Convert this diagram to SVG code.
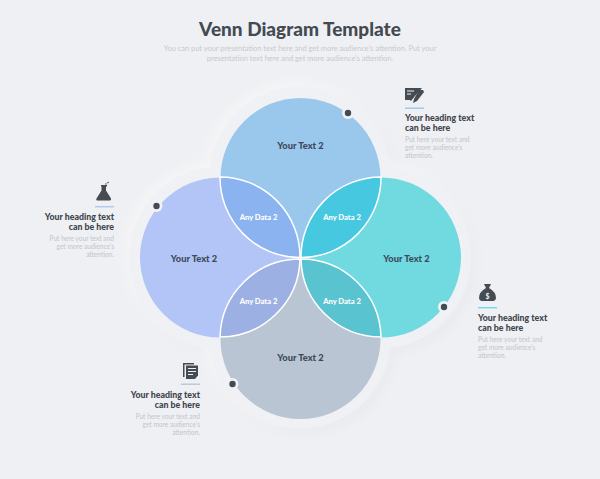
<svg xmlns="http://www.w3.org/2000/svg" width="600" height="479" viewBox="0 0 600 479">
<style>
text{font-family:Lato,"Liberation Sans",sans-serif}
.title{font-size:19px;font-weight:900;fill:#434a52;text-anchor:middle}
.sub{font-size:7.45px;fill:#c6c9ce;text-anchor:middle}
.h{font-size:8.8px;font-weight:900;fill:#3f454c}
.p{font-size:6.6px;fill:#c2c5cb}
.e{text-anchor:end}
.lab{font-size:9.3px;font-weight:900;fill:#3d4a5a;text-anchor:middle}
.dat{font-size:7.6px;font-weight:900;fill:#fff;text-anchor:middle}
.lens{stroke:#fff;stroke-width:1.5}
.ic{fill:#454b52}
.dot{fill:#454b52}
.dh{fill:#f1f2f5}
</style>
<defs>
<filter id="sd" x="-20%" y="-20%" width="140%" height="140%"><feGaussianBlur stdDeviation="6"/></filter>
</defs>
<rect width="600" height="479" fill="#eff0f3"/>
<g id="halo">
<g filter="url(#sd)" fill="#e8e9ed" transform="translate(4 4)"><circle cx="300" cy="177.500" r="91"/><circle cx="220" cy="257.500" r="91"/><circle cx="380" cy="257.500" r="91"/><circle cx="300" cy="337.500" r="91"/></g>
<g filter="url(#sd)" fill="#f6f6f8" transform="translate(-4 -4)"><circle cx="300" cy="177.500" r="91"/><circle cx="220" cy="257.500" r="91"/><circle cx="380" cy="257.500" r="91"/><circle cx="300" cy="337.500" r="91"/></g>
<g fill="#f0f1f4"><circle cx="300" cy="177.500" r="91"/><circle cx="220" cy="257.500" r="91"/><circle cx="380" cy="257.500" r="91"/><circle cx="300" cy="337.500" r="91"/></g>
</g>
<g id="circle-top"><circle cx="300.500" cy="178" r="80" fill="#99c8ec"/></g>
<g id="circle-left"><circle cx="220" cy="257.500" r="80" fill="#b2c5f6"/></g>
<g id="circle-right"><circle cx="381" cy="257.500" r="80" fill="#70dae0"/></g>
<g id="circle-bottom"><circle cx="300.500" cy="339" r="80" fill="#b9c5d3"/></g>
<g id="lens-top-left"><path class="lens" d="M220 177 A80 80 0 0 1 300 257.500 A80 80 0 0 1 220 177Z" fill="#8ab3f0"/><text class="dat" x="258.500" y="220">Any Data 2</text></g>
<g id="lens-top-right"><path class="lens" d="M381 177 A80 80 0 0 1 301 257.500 A80 80 0 0 1 381 177Z" fill="#46c8e0"/><text class="dat" x="342" y="220">Any Data 2</text></g>
<g id="lens-bottom-left"><path class="lens" d="M220 337 A80 80 0 0 1 300 259 A80 80 0 0 1 220 337Z" fill="#9db0e3"/><text class="dat" x="258.500" y="304">Any Data 2</text></g>
<g id="lens-bottom-right"><path class="lens" d="M381 337 A80 80 0 0 1 301 259 A80 80 0 0 1 381 337Z" fill="#59c3d0"/><text class="dat" x="342" y="304">Any Data 2</text></g>
<g id="labels">
<text class="lab" x="300.500" y="148.500">Your Text 2</text>
<text class="lab" x="194" y="261.500">Your Text 2</text>
<text class="lab" x="406.500" y="261.500">Your Text 2</text>
<text class="lab" x="300.500" y="361">Your Text 2</text>
</g>
<g id="dots">
<circle class="dh" cx="348" cy="113" r="6"/><circle class="dot" cx="348" cy="113" r="3.200"/>
<circle class="dh" cx="156.500" cy="206" r="6"/><circle class="dot" cx="156.500" cy="206" r="3.200"/>
<circle class="dh" cx="444" cy="307" r="6"/><circle class="dot" cx="444" cy="307" r="3.200"/>
<circle class="dh" cx="232.500" cy="384" r="6"/><circle class="dot" cx="232.500" cy="384" r="3.200"/>
</g>
<g id="title">
<text class="title" x="300" y="35.500">Venn Diagram Template</text>
<text class="sub" x="300" y="50.500">You can put your presentation text here and get more audience's attention. Put your</text>
<text class="sub" x="300" y="60.500">presentation text here and get more audience's attention.</text>
</g>
<g id="note-top">
<path class="ic" d="M405 88h17l-7 8-4 5-1-1h-5z"/>
<path d="M407 91h7M407 94h4" stroke="#eff0f3" stroke-width="1.200"/>
<path class="ic" d="M419 90l4 0 1 2-7 9-4 2 1-4z"/>
<rect x="405" y="107.500" width="19" height="1.400" fill="#99c8ec"/>
<text class="h" x="405" y="121">Your heading text</text>
<text class="h" x="405" y="131">can be here</text>
<text class="p" x="405" y="141.500">Put here your text and</text>
<text class="p" x="405" y="149.500">get more audience's</text>
<text class="p" x="405" y="157.500">attention.</text>
</g>
<g id="note-left">
<path class="ic" d="M101 185h6v1.500h-1v4l5 8q.5 2-2 2h-11q-2.500 0-1.500-2l5-8v-4h-.5z"/>
<circle class="ic" cx="106" cy="184" r=".8"/><circle class="ic" cx="108" cy="182.500" r=".8"/>
<rect x="95" y="206" width="19" height="1.400" fill="#b2c5f6"/>
<text class="h e" x="114" y="220">Your heading text</text>
<text class="h e" x="114" y="230">can be here</text>
<text class="p e" x="114" y="241">Put here your text and</text>
<text class="p e" x="114" y="249">get more audience's</text>
<text class="p e" x="114" y="257">attention.</text>
</g>
<g id="note-right">
<path class="ic" d="M484 284h7l-2 4q7 4 7 10-.5 3-3 3h-11q-2.500 0-3-3 0-6 7-10z"/>
<text x="487.500" y="298.500" font-size="7" font-weight="700" fill="#eff0f3" text-anchor="middle">$</text>
<rect x="478" y="307" width="19" height="1.400" fill="#70dae0"/>
<text class="h" x="478" y="321">Your heading text</text>
<text class="h" x="478" y="331">can be here</text>
<text class="p" x="478" y="342">Put here your text and</text>
<text class="p" x="478" y="350">get more audience's</text>
<text class="p" x="478" y="358">attention.</text>
</g>
<g id="note-bottom">
<path class="ic" d="M183 363h11v1.500h-9.500v12.500h-1.500z"/>
<path class="ic" d="M186 365.500h12v10l-3 3.500h-9z"/>
<path d="M188 368.500h8M188 371.500h8M188 374.500h5" stroke="#eff0f3" stroke-width="1"/>
<rect x="181" y="383.500" width="19" height="1.400" fill="#b9c5d3"/>
<text class="h e" x="200" y="398">Your heading text</text>
<text class="h e" x="200" y="408">can be here</text>
<text class="p e" x="200" y="418.500">Put here your text and</text>
<text class="p e" x="200" y="426.500">get more audience's</text>
<text class="p e" x="200" y="434.500">attention.</text>
</g>
</svg>
